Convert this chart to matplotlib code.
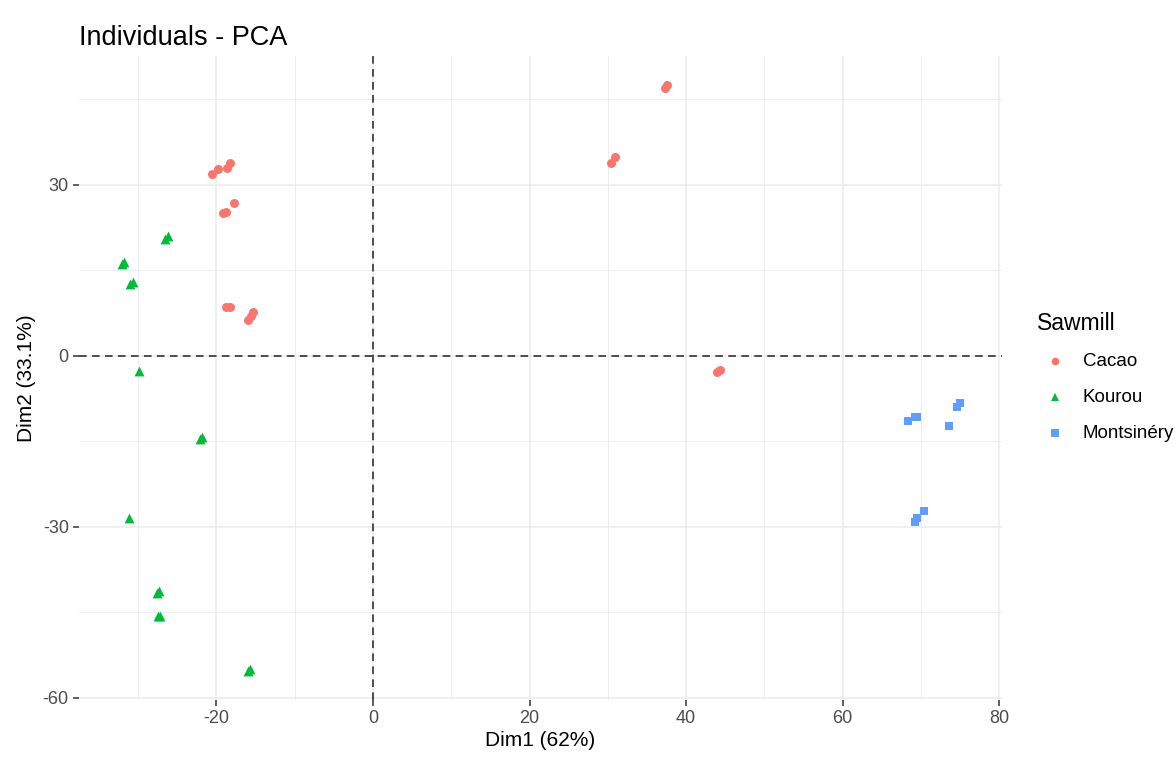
import numpy as np
import matplotlib.pyplot as plt
from matplotlib.lines import Line2D

plt.rcParams["font.family"] = ["Liberation Sans", "DejaVu Sans"]
plt.rcParams["axes.unicode_minus"] = False

# PCA coordinates
cacao_x = [-20.5, -19.8, -18.6, -18.2, -17.7, -19.2, -18.8, -18.8, -18.3, -16.0, -15.6, -15.3,
           37.3, 37.6, 30.4, 30.9, 43.9, 44.3]
cacao_y = [32.0, 32.8, 33.0, 33.8, 26.8, 25.0, 25.3, 8.6, 8.6, 6.3, 7.0, 7.7,
           47.0, 47.5, 33.9, 34.9, -2.8, -2.5]
kourou_x = [-26.5, -26.2, -32.1, -31.8, -31.0, -30.6, -29.9, -21.8, -22.1, -31.1,
            -27.6, -27.3, -27.4, -27.2, -16.0, -15.7]
kourou_y = [20.6, 21.1, 16.1, 16.5, 12.6, 13.0, -2.6, -14.2, -14.6, -28.4,
            -41.6, -41.3, -45.6, -45.6, -55.3, -54.9]
monts_x = [68.3, 69.2, 69.5, 74.6, 75.0, 73.6, 70.4, 69.2, 69.5]
monts_y = [-11.4, -10.7, -10.7, -8.9, -8.2, -12.3, -27.2, -29.1, -28.4]

groups = ["Cacao", "Kourou", "Montsinéry"]
colors = ["#F8766D", "#00BA38", "#619CFF"]
markers = ["o", "^", "s"]
sizes = [42, 50, 40]

W, H = 1176, 760
fig = plt.figure(figsize=(W / 100, H / 100), dpi=100)
ax = fig.add_axes([0.0668, 0.0786, 0.7856, 0.8475])

ax.set_xlim(-37.6, 80.4)
ax.set_ylim(-60.4, 52.6)

# grid like theme_minimal
ax.set_xticks([-20, 0, 20, 40, 60, 80])
ax.set_yticks([-60, -30, 0, 30])
ax.set_xticks([-30, -10, 10, 30, 50, 70], minor=True)
ax.set_yticks([-45, -15, 15, 45], minor=True)
ax.grid(True, which="major", color="#EBEBEB", linewidth=1.1)
ax.grid(True, which="minor", color="#EBEBEB", linewidth=0.6)
ax.set_axisbelow(True)
for s in ax.spines.values():
    s.set_visible(False)
ax.tick_params(which="major", length=4, width=1.1, color="#333333",
               labelsize=13, labelcolor="#4D4D4D", pad=3)
ax.tick_params(which="minor", length=0)

ax.axhline(0, color="#222222", linestyle=(0, (5, 3.5)), linewidth=1.1, zorder=1)
ax.axvline(0, color="#222222", linestyle=(0, (5, 3.5)), linewidth=1.1, zorder=1)

data = [(cacao_x, cacao_y), (kourou_x, kourou_y), (monts_x, monts_y)]
for (xs, ys), c, m, sz in zip(data, colors, markers, sizes):
    ax.scatter(xs, ys, s=sz, color=c, marker=m, linewidths=0, zorder=3)

ax.set_xlabel("Dim1 (62%)", fontsize=15, labelpad=3)
ax.set_ylabel("Dim2 (33.1%)", fontsize=15, labelpad=5)
ax.set_title("Individuals - PCA", fontsize=19.5, loc="left", pad=8)

# legend placed by hand
fig.text(1037 / W, 1 - 323 / H, "Sawmill", fontsize=16.5, va="center", ha="left")
rows_y = [361, 397, 433]
for c, m, lab, yy in zip(colors, markers, groups, rows_y):
    fig.add_artist(Line2D([1055 / W], [1 - yy / H], transform=fig.transFigure,
                          linestyle="", marker=m, color=c, markersize=5.5,
                          markeredgewidth=0))
    fig.text(1083 / W, 1 - yy / H, lab, fontsize=13.5, va="center", ha="left")

fig.savefig("out.png", dpi=100)
